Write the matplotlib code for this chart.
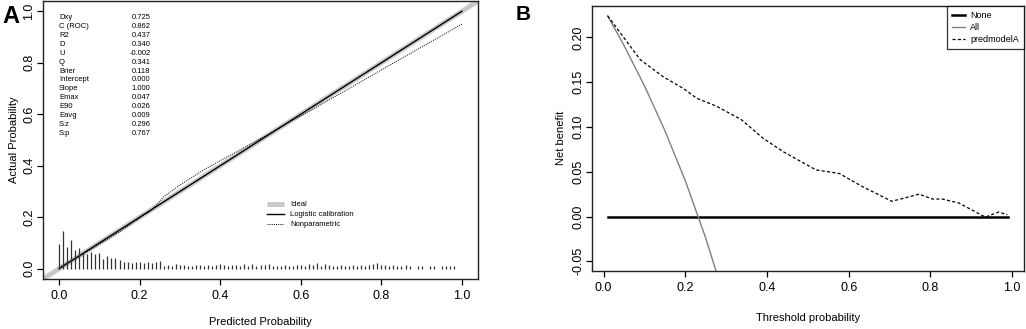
import numpy as np
import matplotlib
matplotlib.use("Agg")
import matplotlib.pyplot as plt

plt.rcParams['font.family'] = ['Liberation Sans Narrow', 'Liberation Sans', 'DejaVu Sans']

# ---- Panel A data: calibration ----
stat_names = ["Dxy", "C (ROC)", "R2", "D", "U", "Q", "Brier", "Intercept",
              "Slope", "Emax", "E90", "Eavg", "S:z", "S:p"]
stat_values = ["0.725", "0.862", "0.437", "0.340", "-0.002", "0.341", "0.118",
               "0.000", "1.000", "0.047", "0.026", "0.009", "0.296", "0.767"]

ideal_x = [-0.05, 1.05]
logistic_x = [0.0, 1.0]
logistic_y = [0.0, 1.0]

nonpar_x = [0.0, 0.05, 0.10, 0.15, 0.20, 0.23, 0.26, 0.30, 0.35, 0.40, 0.45,
            0.50, 0.55, 0.60, 0.70, 0.80, 0.90, 1.00]
nonpar_y = [0.005, 0.048, 0.095, 0.143, 0.197, 0.228, 0.280, 0.325, 0.375, 0.420,
            0.462, 0.505, 0.550, 0.593, 0.682, 0.772, 0.861, 0.950]

spike_x = np.arange(0, 100) / 100
spike_h = [0.094, 0.148, 0.084, 0.110, 0.071, 0.081, 0.065, 0.058, 0.065, 0.058,
           0.062, 0.039, 0.048, 0.040, 0.040, 0.032, 0.026, 0.026, 0.023, 0.026,
           0.026, 0.023, 0.026, 0.023, 0.026, 0.030, 0.012, 0.014, 0.012, 0.020,
           0.016, 0.014, 0.012, 0.012, 0.016, 0.014, 0.012, 0.016, 0.012, 0.014,
           0.018, 0.014, 0.012, 0.016, 0.014, 0.012, 0.018, 0.012, 0.020, 0.010,
           0.016, 0.014, 0.020, 0.012, 0.010, 0.012, 0.016, 0.012, 0.010, 0.014,
           0.016, 0.012, 0.020, 0.014, 0.022, 0.012, 0.020, 0.016, 0.012, 0.010,
           0.014, 0.012, 0.010, 0.014, 0.012, 0.016, 0.012, 0.014, 0.020, 0.022,
           0.016, 0.014, 0.012, 0.014, 0.012, 0.010, 0.014, 0.010, 0.000, 0.010,
           0.010, 0.000, 0.010, 0.010, 0.000, 0.010, 0.010, 0.010, 0.010, 0.000]

# ---- Panel B data: decision curve ----
none_x = [0.01, 0.99]
none_y = [0.0, 0.0]

all_x = [0.01, 0.05, 0.10, 0.15, 0.20, 0.25, 0.30]
all_y = [0.224, 0.191, 0.146, 0.096, 0.040, -0.024, -0.097]

model_x = [0.01, 0.09, 0.146, 0.195, 0.228, 0.277, 0.3375, 0.39, 0.439, 0.52,
           0.577, 0.635, 0.675, 0.705, 0.74, 0.772, 0.805, 0.829, 0.87, 0.927,
           0.935, 0.967, 0.988]
model_y = [0.224, 0.175, 0.156, 0.143, 0.132, 0.123, 0.108, 0.0875, 0.0725, 0.052,
           0.048, 0.033, 0.024, 0.017, 0.021, 0.025, 0.0195, 0.0195, 0.015, 0.001,
           -0.0005, 0.005, 0.002]

fig = plt.figure(figsize=(10.26, 3.29), dpi=100)
axA = fig.add_axes([0.0419, 0.152, 0.424, 0.845])
axB = fig.add_axes([0.5767, 0.1772, 0.4214, 0.8046])

# Panel A
axA.plot(ideal_x, ideal_x, color="#c8c8c8", lw=3.5, label="Ideal", solid_capstyle="butt")
axA.plot(logistic_x, logistic_y, color="black", lw=1.0, label="Logistic calibration")
axA.plot(nonpar_x, nonpar_y, color="black", lw=0.7, ls=(0, (1, 1.2)), label="Nonparametric")
axA.vlines(spike_x, 0, spike_h, color="#333333", lw=0.9)

axA.set_xlim(-0.04, 1.04)
axA.set_ylim(-0.04, 1.04)
axA.set_xticks([0, 0.2, 0.4, 0.6, 0.8, 1.0])
axA.set_yticks([0, 0.2, 0.4, 0.6, 0.8, 1.0])
axA.set_xticklabels(["0.0", "0.2", "0.4", "0.6", "0.8", "1.0"])
axA.set_yticklabels(["0.0", "0.2", "0.4", "0.6", "0.8", "1.0"], rotation=90, va="center")
axA.set_xlabel("Predicted Probability", fontsize=8, labelpad=11)
axA.set_ylabel("Actual Probability", fontsize=8, labelpad=3)

for i, (n, v) in enumerate(zip(stat_names, stat_values)):
    yy = 0.975 - i * 0.0345
    axA.text(0.0, yy, n, fontsize=5.5, va="center", ha="left")
    axA.text(0.227, yy, v, fontsize=5.5, va="center", ha="right")

axA.legend(loc="upper left", bbox_to_anchor=(0.5, 0.305), frameon=False,
           fontsize=5.5, handlelength=2.2, handletextpad=0.8, labelspacing=0.35)

# Panel B
axB.plot(none_x, none_y, color="black", lw=1.8, label="None")
axB.plot(all_x, all_y, color="#808080", lw=1.0, label="All")
axB.plot(model_x, model_y, color="black", lw=0.9, ls=(0, (2.5, 1.8)), label="predmodelA")
axB.set_xlim(-0.029, 1.029)
axB.set_ylim(-0.0605, 0.235)
axB.set_xticks([0, 0.2, 0.4, 0.6, 0.8, 1.0])
axB.set_xticklabels(["0.0", "0.2", "0.4", "0.6", "0.8", "1.0"])
axB.set_yticks([-0.05, 0, 0.05, 0.10, 0.15, 0.20])
axB.set_yticklabels(["-0.05", "0.00", "0.05", "0.10", "0.15", "0.20"], rotation=90, va="center")
axB.set_xlabel("Threshold probability", fontsize=8, labelpad=14)
axB.set_ylabel("Net benefit", fontsize=8, labelpad=4)
leg = axB.legend(loc="upper right", fontsize=6.5, frameon=True, fancybox=False,
                 borderaxespad=0, handlelength=1.4, handletextpad=0.6,
                 labelspacing=0.35, borderpad=0.55)
leg.get_frame().set_edgecolor("black")
leg.get_frame().set_linewidth(0.9)

for ax in (axA, axB):
    for s in ax.spines.values():
        s.set_linewidth(1.0)
        s.set_color("#222222")
    ax.tick_params(direction="out", length=4, width=0.9, labelsize=9, pad=4)
    ax.tick_params(axis="y", pad=1.5)

fig.text(0.002, 0.985, "A", fontsize=17, fontweight="bold", va="top", ha="left",
         family=["Liberation Sans", "DejaVu Sans"])
fig.text(0.503, 0.985, "B", fontsize=15, fontweight="bold", va="top", ha="left",
         family=["Liberation Sans", "DejaVu Sans"])

fig.savefig("out.png", dpi=100)
